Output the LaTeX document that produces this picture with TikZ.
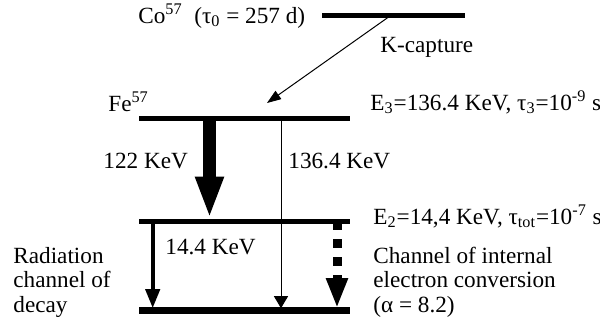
\documentclass[tikz,border=0pt]{standalone}
\usepackage{fontspec}
\setmainfont{Liberation Serif}
\usetikzlibrary{arrows.meta}

\begin{document}
\begin{tikzpicture}[
    x=0.5pt, y=-0.5pt,
    lbl/.style={anchor=base west, inner sep=0pt, align=left,
                font=\fontsize{11.6}{12.25}\selectfont},
    level/.style={line width=2.5pt},
    groundlevel/.style={line width=3.5pt},
    capt/.style={-{Triangle[length=7pt, width=5pt]}, line width=0.5pt},
    gam/.style={-{Triangle[length=21pt, width=13pt]}, line width=6.5pt},
    gamthin/.style={-{Triangle[length=6pt, width=7pt]}, line width=0.5pt},
    rad/.style={-{Triangle[length=9.5pt, width=7pt]}, line width=2pt},
    conv/.style={-{Triangle[length=15pt, width=10pt]}, line width=4.5pt,
                 dash pattern=on 4.5pt off 4.5pt},
  ]
  \useasboundingbox (0,0) rectangle (600,329);

  % Levels
  \coordinate (co l) at (322,15.5);  \coordinate (co r) at (465,15.5);
  \coordinate (e3 l) at (139,118);   \coordinate (e3 r) at (350,118);
  \coordinate (e2 l) at (139,221);   \coordinate (e2 r) at (350,221);
  \coordinate (g l)  at (139,310);   \coordinate (g r)  at (350,310);
  \draw[level] (co l) -- (co r);
  \draw[level] (e3 l) -- (e3 r);
  \draw[level] (e2 l) -- (e2 r);
  \draw[groundlevel] (g l) -- (g r);

  % Labels
  \node[lbl] (co)   at (138,23)  {Co\textsuperscript{57}\ \ (τ\textsubscript{0} = 257 d)};
  \node[lbl] (kcap) at (380,52)  {K-capture};
  \node[lbl] (fe)   at (108,111) {Fe\textsuperscript{57}};
  \node[lbl] (e3)   at (370,110) {E\textsubscript{3}=136.4 KeV, τ\textsubscript{3}=10\textsuperscript{-9} s};
  \node[lbl] (l122) at (103,168) {122 KeV};
  \node[lbl] (l136) at (288,168) {136.4 KeV};
  \node[lbl] (e2)   at (373,224) {E\textsubscript{2}=14,4 KeV, τ\textsubscript{tot}=10\textsuperscript{-7} s};
  \node[lbl] (l14)  at (165,254) {14.4 KeV};
  \node[lbl] (radch)  at (13,312)  {Radiation\\channel of\\decay};
  \node[lbl] (convch) at (373,312) {Channel of internal\\electron conversion\\(α = 8.2)};

  % Transitions
  \coordinate (kc a) at (390,16);      \coordinate (kc b) at (267,103);
  \coordinate (t122 a) at (209.5,118); \coordinate (t122 b) at (209.5,218.5);
  \coordinate (t136 a) at (281,118);   \coordinate (t136 b) at (281,308.2);
  \coordinate (t14 a) at (152.7,221);  \coordinate (t14 b) at (152.7,308.2);
  \coordinate (ic a) at (337,221);     \coordinate (ic b) at (337,308.2);
  \draw[capt] (kc a) -- (kc b);
  \draw[gam] (t122 a) -- (t122 b);
  \draw[gamthin] (t136 a) -- (t136 b);
  \draw[rad] (t14 a) -- (t14 b);
  \draw[conv] (ic a) -- (ic b);
\end{tikzpicture}
\end{document}
